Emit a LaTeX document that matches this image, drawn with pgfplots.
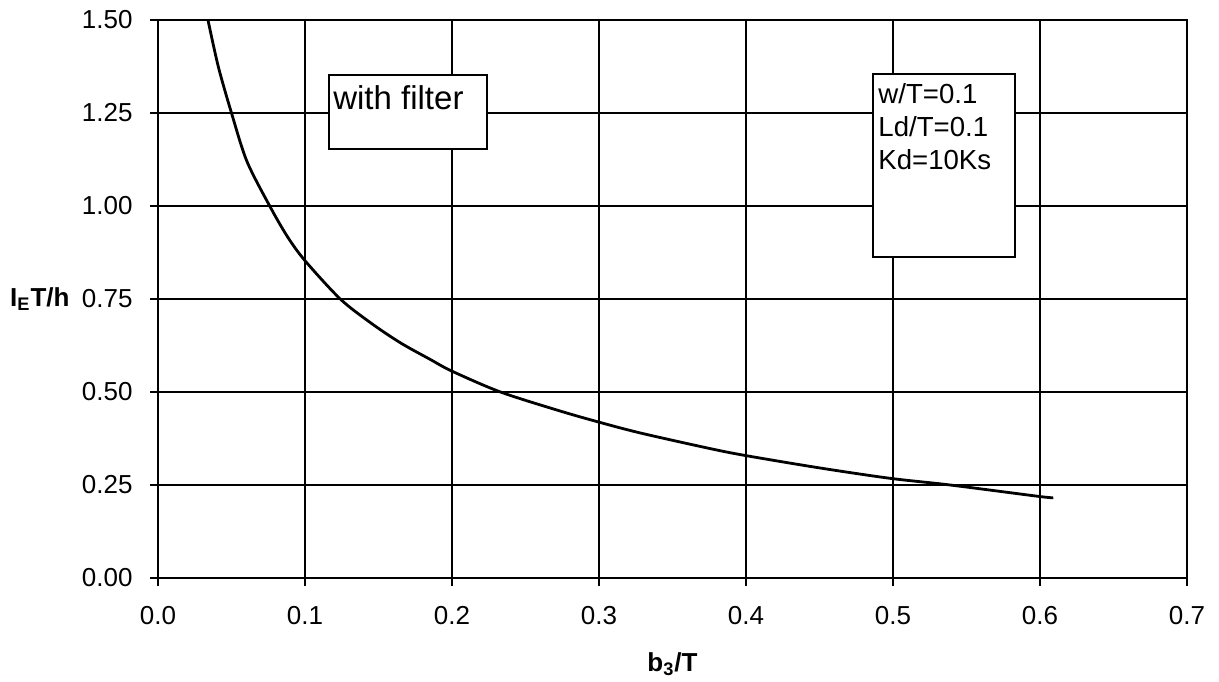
\documentclass[border=0pt]{standalone}
\usepackage{fontspec}
\setmainfont{Liberation Sans}
\usepackage{pgfplots}
\pgfplotsset{compat=1.18}

\begin{document}
\begin{tikzpicture}
\begin{axis}[
    width=514.5pt, height=279pt, scale only axis,
    xmin=0, xmax=0.7, ymin=0, ymax=1.5,
    xtick={0,0.1,0.2,0.3,0.4,0.5,0.6,0.7},
    ytick={0,0.25,0.5,0.75,1,1.25,1.5},
    xtick pos=bottom, ytick pos=left,
    grid=major,
    major grid style={black, line width=0.6pt},
    axis line style={black, line width=0.6pt},
    tick align=outside, major tick length=4pt,
    tick style={black, line width=0.6pt},
    /pgf/number format/assume math mode=true,
    xticklabel style={/pgf/number format/fixed, /pgf/number format/fixed zerofill, /pgf/number format/precision=1, yshift=-10pt},
    yticklabel style={/pgf/number format/fixed, /pgf/number format/fixed zerofill, /pgf/number format/precision=2, xshift=-8.5pt},
    tick label style={font=\fontsize{13}{15}\selectfont, inner sep=0pt},
    every axis x label/.style={at={(rel axis cs:0.5,0)}, anchor=north, inner sep=0pt, yshift=-37pt, font=\fontsize{13}{15}\selectfont\bfseries},
    every axis y label/.style={at={(rel axis cs:0,0.5)}, anchor=east, inner sep=0pt, xshift=-44pt, font=\fontsize{13}{15}\selectfont\bfseries},
    xlabel={b\textsubscript{3}/T},
    ylabel={I\textsubscript{E}T/h},
]
\addplot[black, line width=1.4pt, smooth] coordinates {
    (0.034,1.50) (0.041,1.375) (0.050,1.25) (0.0605,1.12) (0.076,1.00)
    (0.088,0.918) (0.100,0.853) (0.124,0.75) (0.145,0.685) (0.165,0.632)
    (0.185,0.588) (0.200,0.556) (0.233,0.50) (0.2735,0.449) (0.300,0.419)
    (0.328,0.390) (0.3755,0.348) (0.400,0.329) (0.450,0.296) (0.498,0.268)
    (0.539,0.25) (0.600,0.219) (0.609,0.216)
};
\draw[black, line width=0.8pt, fill=white] (axis cs:0.1163,1.352) rectangle (axis cs:0.2238,1.153);
\node[anchor=north west, inner sep=0pt, font=\fontsize{16.5}{19}\selectfont] at (axis cs:0.119,1.325) {with filter};
\draw[black, line width=0.8pt, fill=white] (axis cs:0.4864,1.355) rectangle (axis cs:0.583,0.863);
\node[anchor=north west, inner sep=0pt, align=left, font=\fontsize{13.8}{16.5}\selectfont] at (axis cs:0.4898,1.331) {w/T=0.1\\Ld/T=0.1\\Kd=10Ks};
\coordinate (sw) at (rel axis cs:0,0);
\coordinate (ne) at (rel axis cs:1,1);
\end{axis}
\pgfresetboundingbox
\path (ne) ++(16pt,10pt) coordinate (ne2);
\path (sw) ++(-79pt,-51.5pt) coordinate (sw2);
\path[use as bounding box] (sw2) rectangle (ne2);
\end{tikzpicture}
\end{document}
